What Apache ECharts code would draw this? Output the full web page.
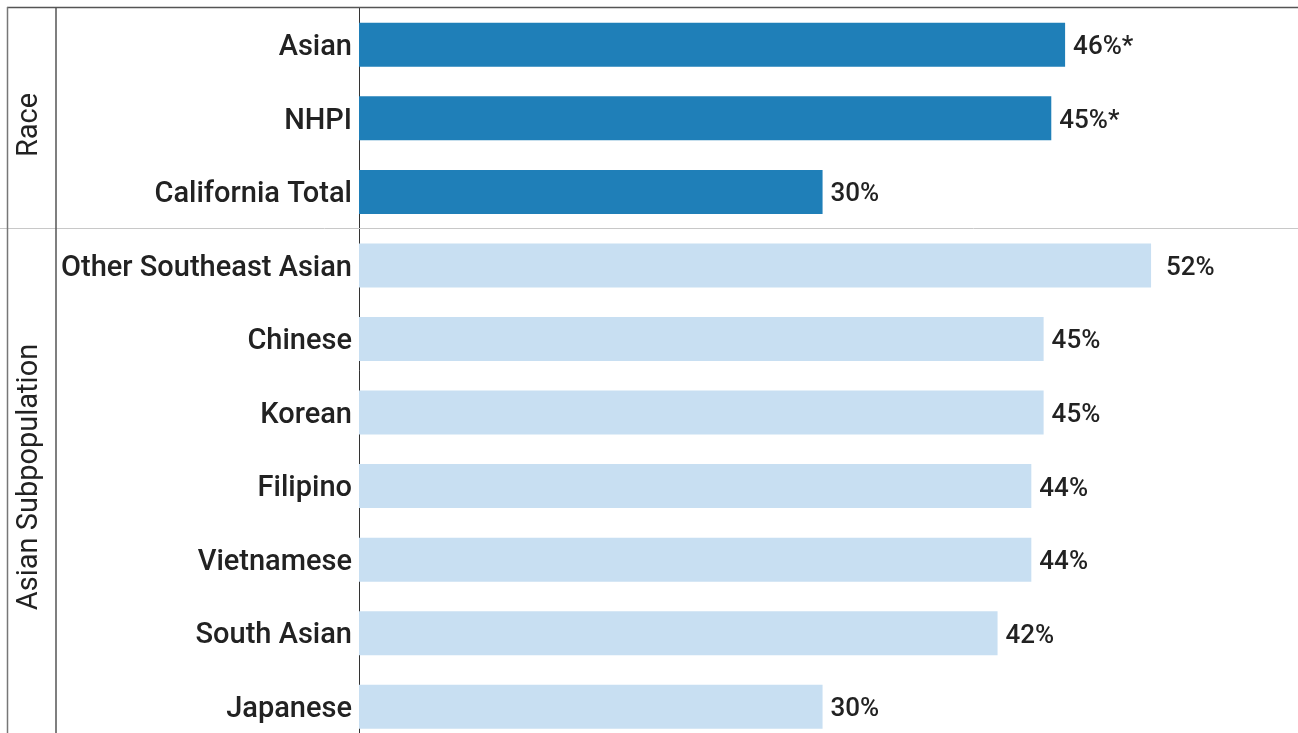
<!DOCTYPE html>
<html>
<head>
<meta charset="utf-8">
<script src="https://cdn.jsdelivr.net/npm/echarts@6/dist/echarts.min.js"></script>
<style>
html,body{margin:0;padding:0;background:#fff;}
#chart{width:1298px;height:733px;}
</style>
</head>
<body>
<div id="chart"></div>
<script>
const categories = ["Asian","NHPI","California Total","Other Southeast Asian","Chinese","Korean","Filipino","Vietnamese","South Asian","Japanese"];
const values = [46.0, 45.1, 30.2, 51.6, 44.6, 44.6, 43.8, 43.8, 41.6, 30.2];
const valueLabels = ["46%*","45%*","30%","52%","45%","45%","44%","44%","42%","30%"];
const groupOf = ["Race","Race","Race","Asian","Asian","Asian","Asian","Asian","Asian","Asian"];
const groupNames = ["Race","Asian Subpopulation"];

const DARK = "#1f7fb8", LIGHT = "#c8dff2";
const chart = echarts.init(document.getElementById('chart'));
const gridTop = 8, bandH = 73.55;

const data = values.map((v,i)=>({
  value: v,
  itemStyle: {color: groupOf[i]==="Race" ? DARK : LIGHT},
  label: i===3 ? {distance: 15} : undefined
}));

chart.setOption({
  animation:false,
  grid:{left:359, top:gridTop, width:921, height:bandH*categories.length, containLabel:false, outerBoundsMode:'none'},
  xAxis:{type:'value', min:0, max:60, show:false},
  yAxis:{
    type:'category', data:categories, inverse:true,
    axisLine:{show:true, lineStyle:{color:'#333', width:1}},
    axisTick:{show:false},
    axisLabel:{margin:7, formatter:(v)=>'{c|'+v+'}',
      rich:{c:{padding:[6,0,0,0], fontFamily:'Roboto', fontSize:29, fontWeight:500, color:'#222'}}}
  },
  series:[{
    type:'bar', data:data, barWidth:44,
    label:{show:true, position:'right', distance:8, offset:[0,3], fontFamily:'Roboto', fontSize:26, fontWeight:500, color:'#222',
      formatter:(p)=>valueLabels[p.dataIndex]}
  }],
  graphic:[
    {type:'line', shape:{x1:7,y1:7.5,x2:1298,y2:7.5}, style:{stroke:'#555',lineWidth:1.5}, z:10},
    {type:'line', shape:{x1:0,y1:228.5,x2:1298,y2:228.5}, style:{stroke:'#c8c8c8',lineWidth:1}, z:10},
    {type:'line', shape:{x1:7.5,y1:7,x2:7.5,y2:733}, style:{stroke:'#777',lineWidth:1.5}, z:10},
    {type:'line', shape:{x1:56,y1:7,x2:56,y2:733}, style:{stroke:'#555',lineWidth:1.5}, z:10},
    {type:'text', x:30, y:125, rotation:Math.PI/2,
      style:{text:groupNames[0], font:'400 29px Roboto', fill:'#222', textAlign:'center', textVerticalAlign:'middle'}},
    {type:'text', x:30, y:477, rotation:Math.PI/2,
      style:{text:groupNames[1], font:'400 29px Roboto', fill:'#222', textAlign:'center', textVerticalAlign:'middle'}}
  ]
});
</script>
</body>
</html>
